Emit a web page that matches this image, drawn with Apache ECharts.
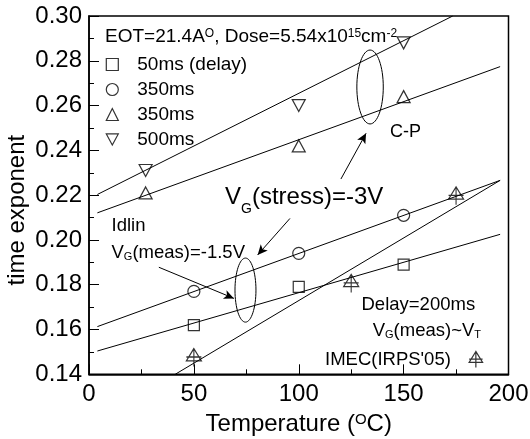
<!DOCTYPE html>
<html>
<head>
<meta charset="utf-8">
<script src="https://cdn.jsdelivr.net/npm/echarts@6/dist/echarts.min.js"></script>
<style>
  html, body { margin: 0; padding: 0; background: #fff; }
  #chart { width: 530px; height: 439px; }
</style>
</head>
<body>
<div id="chart"></div>
<script>
// Измеренные точки: [температура °C, time exponent]
const delay50 = [[50, 0.162], [100, 0.179], [150, 0.189]];
const circ350 = [[50, 0.177], [100, 0.194], [150, 0.211]];
const tri350 = [[27, 0.221], [100, 0.242], [150, 0.264]];
const tri500 = [[27, 0.231], [100, 0.260], [150, 0.288]];
const imec = [[50, 0.1475], [125, 0.1806], [175, 0.2197]];

// Аппроксимирующие прямые (концы отрезков)
const fit500 = [[4, 0.2203], [173.4, 0.30]];
const fit350t = [[4, 0.2121], [196, 0.2774]];
const fit350c = [[4, 0.1613], [196, 0.2266]];
const fit50 = [[4, 0.1504], [196, 0.2025]];
const fitImec = [[41.1, 0.14], [196, 0.2266]];

// Эллипсы: [центр T, центр y, полуось по T, полуось по y]
const ellipses = [[134, 0.2683, 6.3, 0.0165], [74.6, 0.1776, 5.0, 0.0143]];

// Стрелки: [начало, конец]
const arrows = [
  [[120.1, 0.2272], [132.1, 0.2476]],
  [[95.8, 0.2096], [80.4, 0.1933]],
  [[33.3, 0.1878], [69.1, 0.1739]],
];

// второй «350ms» отличается пробелом — иначе легенда склеит пункты
const legendNames = ['50ms (delay)', '350ms', '350ms ', '500ms'];
const imecName = "IMEC(IRPS'05)";

const FONT = "'Liberation Sans', Arial, sans-serif";
const IMEC_PATH = 'path://M8,0 L0,13 L16,13 Z M8,0 L8,19 M0,9 L16,9';
const TRI_DOWN = 'path://M0,0 L13,0 L6.5,12 Z';

const hollow = { color: 'rgba(0,0,0,0)', borderColor: '#000', borderWidth: 1.2 };

const fitLine = (name, data) => ({
  name, type: 'line', data, symbol: 'none', silent: true,
  lineStyle: { color: '#000', width: 1 }, z: 1,
});

const chart = echarts.init(document.getElementById('chart'), null, { renderer: 'canvas' });

function txt(x, y, text, size, rich) {
  return {
    type: 'text', x, y, silent: true,
    style: {
      text, fill: '#000', fontSize: size, fontFamily: FONT,
      align: 'left', verticalAlign: 'middle',
      rich: Object.assign({
        sub: { fontSize: 11, fontFamily: FONT, verticalAlign: 'bottom' },
        sup: { fontSize: 12, fontFamily: FONT, verticalAlign: 'top' },
      }, rich || {}),
    },
  };
}

chart.setOption({
  animation: false,
  backgroundColor: '#fff',
  textStyle: { fontFamily: FONT, color: '#000' },
  grid: {
    left: 89, right: 21.5, top: 16, bottom: 64.7, outerBoundsMode: 'none', containLabel: false,
    show: true, borderColor: '#000', borderWidth: 1.5, backgroundColor: 'transparent',
  },
  xAxis: {
    type: 'value', min: 0, max: 200, interval: 50,
    name: 'Temperature ({sup|O}C)', nameLocation: 'middle', nameGap: 38, nameMoveOverlap: false,
    nameTextStyle: { fontSize: 24, color: '#000', fontFamily: FONT, rich: { sup: { fontSize: 15, fontFamily: FONT, verticalAlign: 'top' } } },
    axisLine: { lineStyle: { color: '#000', width: 1.5 } },
    axisTick: { inside: true, length: 10, lineStyle: { color: '#000' } },
    minorTick: { show: true, splitNumber: 2, length: 5, lineStyle: { color: '#000' } },
    axisLabel: { fontSize: 24, color: '#000', margin: 8, fontFamily: FONT },
    splitLine: { show: false },
  },
  yAxis: {
    type: 'value', min: 0.14, max: 0.30, interval: 0.02,
    name: 'time exponent', nameLocation: 'middle', nameGap: 60, nameMoveOverlap: false,
    nameTextStyle: { fontSize: 24, color: '#000', fontFamily: FONT, padding: [0, 30, 0, 0] },
    axisLine: { lineStyle: { color: '#000', width: 1.5 } },
    axisTick: { inside: true, length: 10, lineStyle: { color: '#000' } },
    minorTick: { show: true, splitNumber: 2, length: 5, lineStyle: { color: '#000' } },
    axisLabel: { fontSize: 24, color: '#000', margin: 7, fontFamily: FONT, formatter: (v) => v.toFixed(2) },
    splitLine: { show: false },
  },
  legend: [
    {
      data: [
        { name: legendNames[0], icon: 'rect' },
        { name: legendNames[1], icon: 'circle' },
        { name: legendNames[2], icon: 'triangle' },
        { name: legendNames[3], icon: TRI_DOWN },
      ],
      orient: 'vertical', left: 100.7, top: 50,
      itemWidth: 12, itemHeight: 12, itemGap: 6, selectedMode: false,
      formatter: (n) => n.trim(),
      textStyle: { fontSize: 19, color: '#000', fontFamily: FONT, padding: [0, 0, 0, 14] },
      itemStyle: { borderColor: '#000', borderWidth: 1.2 },
    },
    {
      data: [imecName], orient: 'vertical', left: 320, top: 345, align: 'right',
      itemWidth: 40, itemHeight: 16, selectedMode: false,
      textStyle: { fontSize: 18.5, color: '#000', fontFamily: FONT },
      itemStyle: { borderColor: '#000', borderWidth: 1.2 },
    },
  ],
  series: [
    fitLine('fit500', fit500),
    fitLine('fit350t', fit350t),
    fitLine('fit350c', fit350c),
    fitLine('fit50', fit50),
    {
      ...fitLine('fitImec', fitImec),
      markLine: {
        silent: true, symbol: ['none', 'arrow'], symbolSize: [7, 10],
        label: { show: false },
        lineStyle: { color: '#000', width: 1, type: 'solid' },
        data: arrows.map(([a, b]) => [{ coord: a }, { coord: b }]),
      },
    },
    { name: legendNames[0], type: 'scatter', data: delay50, symbol: 'rect', symbolSize: 11, itemStyle: hollow, z: 3 },
    { name: legendNames[1], type: 'scatter', data: circ350, symbol: 'circle', symbolSize: 12, itemStyle: hollow, z: 3 },
    { name: legendNames[2], type: 'scatter', data: tri350, symbol: 'triangle', symbolSize: [13, 12], itemStyle: hollow, z: 3 },
    { name: legendNames[3], type: 'scatter', data: tri500, symbol: 'triangle', symbolRotate: 180, symbolSize: [13, 12], itemStyle: hollow, z: 3 },
    { name: imecName, type: 'scatter', data: imec, symbol: IMEC_PATH, symbolSize: [15, 18], symbolKeepAspect: false, itemStyle: hollow, z: 3 },
    {
      name: 'ellipses', type: 'custom', data: ellipses, silent: true, z: 2,
      encode: { x: 0, y: 1 },
      renderItem(params, api) {
        const c = api.coord([api.value(0), api.value(1)]);
        const s = api.size([api.value(2), api.value(3)]);
        return {
          type: 'ellipse',
          shape: { cx: c[0], cy: c[1], rx: s[0], ry: s[1] },
          style: { fill: 'none', stroke: '#000', lineWidth: 1 },
        };
      },
    },
  ],
  graphic: [
    txt(105, 37, 'EOT=21.4A{sup|O}, Dose=5.54x10{sup|15}cm{sup|-2}', 19),
    txt(390, 132, 'C-P', 18),
    txt(225, 201, '{n|V}{g|G}{n|(stress)=-3V}', 24, {
      n: { fontSize: 24, fontFamily: FONT, lineHeight: 26, verticalAlign: 'top' },
      g: { fontSize: 14, fontFamily: FONT, lineHeight: 31, verticalAlign: 'bottom' },
    }),
    txt(111.5, 226, 'Idlin', 18.5),
    txt(111.5, 253, 'V{sub|G}(meas)=-1.5V', 18.5),
    txt(361.5, 305, 'Delay=200ms', 18.5),
    txt(372.7, 331, 'V{sub|G}(meas)~V{sub|T}', 18.5),
  ],
});
</script>
</body>
</html>
